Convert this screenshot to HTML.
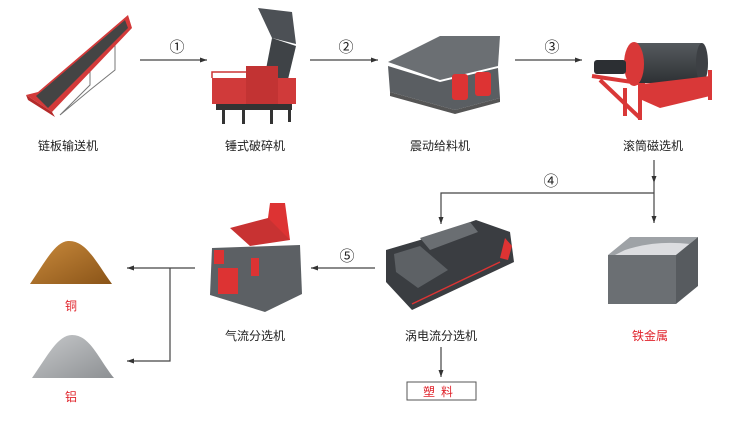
<!DOCTYPE html>
<html><head><meta charset="utf-8"><style>
html,body{margin:0;padding:0;background:#fff}
svg{display:block}
text{font-family:"Liberation Sans","Noto Sans CJK SC",sans-serif}
</style></head><body>
<svg width="750" height="432" viewBox="0 0 750 432" xmlns="http://www.w3.org/2000/svg">
<defs>
<marker id="ah" markerWidth="8" markerHeight="8" refX="7" refY="4" orient="auto" markerUnits="userSpaceOnUse"><path d="M0,1.5 L7,4 L0,6.5z" fill="#333"/></marker>
<linearGradient id="cu" x1="0" y1="0" x2="1" y2="1"><stop offset="0" stop-color="#c98a3c"/><stop offset="1" stop-color="#8a5418"/></linearGradient>
<linearGradient id="al" x1="0" y1="0" x2="1" y2="1"><stop offset="0" stop-color="#c7c9cb"/><stop offset="1" stop-color="#8d9093"/></linearGradient>
<linearGradient id="dr" x1="0" y1="0" x2="0" y2="1"><stop offset="0" stop-color="#555a5e"/><stop offset="1" stop-color="#2e3134"/></linearGradient>
</defs>
<g stroke="#444" stroke-width="1.2" fill="none">
<line x1="140" y1="60" x2="207" y2="60" marker-end="url(#ah)"/>
<line x1="310" y1="60" x2="378" y2="60" marker-end="url(#ah)"/>
<line x1="515" y1="60" x2="582" y2="60" marker-end="url(#ah)"/>
<line x1="654" y1="160" x2="654" y2="183" marker-end="url(#ah)"/>
<line x1="654" y1="183" x2="654" y2="223" marker-end="url(#ah)"/>
<polyline points="654,193 441,193 441,224" marker-end="url(#ah)"/>
<line x1="375" y1="268" x2="311" y2="268" marker-end="url(#ah)"/>
<line x1="195" y1="268" x2="127" y2="268" marker-end="url(#ah)"/>
<polyline points="170,268 170,361 127,361" marker-end="url(#ah)"/>
<line x1="441" y1="347" x2="441" y2="377" marker-end="url(#ah)"/>
</g>
<g font-size="15" fill="#222" text-anchor="middle">
<text x="177" y="52">①</text><text x="346" y="52">②</text><text x="552" y="52">③</text>
<text x="551" y="186">④</text><text x="347" y="261">⑤</text>
</g>
<g font-size="12" fill="#222" text-anchor="middle">
<text x="68" y="150">链板输送机</text><text x="255" y="150">锤式破碎机</text>
<text x="440" y="150">震动给料机</text><text x="653" y="150">滚筒磁选机</text>
<text x="255" y="340">气流分选机</text><text x="441" y="340">涡电流分选机</text>
</g>
<g font-size="12" fill="#e0242c" text-anchor="middle">
<text x="650" y="340">铁金属</text><text x="71" y="310">铜</text><text x="71" y="401">铝</text>
<text x="441" y="396" letter-spacing="6">塑料</text>
</g>
<rect x="407" y="382" width="69" height="18" fill="none" stroke="#555" stroke-width="1"/>
<!-- conveyor -->
<g>
<polyline points="60,115 90,85 90,65 115,35 115,70 90,90 60,115" fill="none" stroke="#777" stroke-width="1"/>
<polygon points="26,95 38,92 128,15 132,28 52,112" fill="#d33a3a"/>
<polygon points="36,96 125,20 128,28 48,108" fill="#444"/>
<polygon points="26,95 52,112 55,117 28,100" fill="#b52a2a"/>
</g>
<!-- crusher -->
<g>
<polygon points="258,8 292,12 296,44 272,38" fill="#4c5055"/>
<polygon points="272,38 296,46 284,96 262,90" fill="#3f4347"/>
<rect x="212" y="78" width="84" height="26" fill="#d03a3a"/>
<rect x="246" y="66" width="32" height="40" fill="#c23333"/>
<polyline points="212,78 212,72 246,72 M278,76 296,76" stroke="#c33" stroke-width="1.5" fill="none"/>
<rect x="216" y="104" width="76" height="6" fill="#333"/>
<g fill="#333"><rect x="222" y="110" width="3" height="14"/><rect x="242" y="110" width="3" height="14"/><rect x="270" y="110" width="3" height="14"/><rect x="288" y="110" width="3" height="12"/></g>
</g>
<!-- feeder -->
<g>
<polygon points="388,62 440,36 500,36 498,66 440,80" fill="#6b6f73"/>
<polygon points="388,66 440,82 498,68 500,98 455,110 390,92" fill="#5a5e62"/>
<rect x="452" y="74" width="16" height="26" rx="3" fill="#d33"/><rect x="475" y="72" width="16" height="24" rx="3" fill="#d33"/>
<polygon points="390,92 455,110 500,98 500,102 455,114 390,96" fill="#555"/>
</g>
<!-- drum separator -->
<g>
<g stroke="#d93838" stroke-width="4" fill="none">
<line x1="592" y1="76" x2="645" y2="84"/>
<line x1="600" y1="80" x2="640" y2="118"/>
<line x1="640" y1="84" x2="640" y2="120"/>
<line x1="625" y1="88" x2="625" y2="116"/>
<line x1="710" y1="70" x2="710" y2="100"/>
</g>
<rect x="634" y="43" width="68" height="40" fill="url(#dr)"/>
<ellipse cx="702" cy="63" rx="6" ry="20" fill="#3d4044"/>
<ellipse cx="634" cy="64" rx="10" ry="22" fill="#d93838"/>
<polygon points="642,84 710,76 710,96 660,108 642,100" fill="#d93838"/>
<rect x="594" y="60" width="32" height="14" rx="3" fill="#2c2f33"/>
</g>
<!-- air separator -->
<g>
<polygon points="270,203 285,203 290,240 265,240" fill="#d33"/>
<polygon points="230,228 268,218 290,240 250,246" fill="#c83232"/>
<polygon points="212,248 300,245 302,294 265,312 210,295" fill="#5c6064"/>
<rect x="214" y="250" width="10" height="14" fill="#d33"/>
<rect x="251" y="258" width="8" height="18" fill="#d33"/>
<rect x="218" y="268" width="20" height="26" fill="#d33"/>
</g>
<!-- eddy current -->
<g>
<polygon points="386,250 420,240 476,220 510,232 514,262 412,310 386,282" fill="#3a3d41"/>
<polygon points="394,254 420,246 448,270 418,288 396,272" fill="#5d6165"/>
<polygon points="420,238 470,222 478,232 430,250" fill="#6a6e72"/>
<line x1="412" y1="304" x2="500" y2="262" stroke="#d33" stroke-width="1.5"/>
<polygon points="505,238 512,246 508,260 500,258" fill="#d33"/>
</g>
<!-- iron box -->
<g>
<polygon points="608,255 630,237 698,237 676,255" fill="#9ea2a6"/>
<path d="M625,250 Q655,240 690,244 L676,255 L615,255z" fill="#dcdde0"/>
<rect x="608" y="255" width="68" height="49" fill="#6b6f73"/>
<polygon points="676,255 698,237 698,286 676,304" fill="#575b5f"/>
</g>
<!-- piles -->
<path d="M30,284 C45,262 55,242 68,241 C86,240 96,262 112,284z" fill="url(#cu)"/>
<path d="M32,378 C48,355 58,335 72,335 C90,335 98,358 114,378z" fill="url(#al)"/>
</svg>
</body></html>
